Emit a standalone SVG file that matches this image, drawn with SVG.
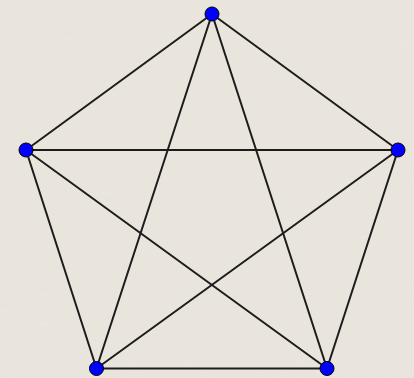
<svg xmlns="http://www.w3.org/2000/svg" width="414" height="378" viewBox="0 0 414 378">
<defs>
<style>
.edge{stroke:#1c1c1c;stroke-width:2;stroke-linecap:round}
.node{fill:#0000ff;stroke:#000;stroke-width:1}
</style>
<filter id="paper" x="0" y="0" width="100%" height="100%">
<feTurbulence type="fractalNoise" baseFrequency="0.08 0.25" numOctaves="3" seed="4" result="n"/>
<feColorMatrix in="n" type="matrix" values="0 0 0 0 0.91  0 0 0 0 0.89  0 0 0 0 0.86  -0.9 0 0 0.55 0" result="c"/>
<feComposite in="c" in2="SourceGraphic" operator="over"/>
</filter>
</defs>
<rect width="414" height="378" fill="#e6e1d9"/>
<rect width="414" height="378" fill="#ece8e1" filter="url(#paper)" opacity="0.6"/>
<g id="connectors">
<line class="edge" x1="212" y1="14" x2="26" y2="150"/>
<line class="edge" x1="212" y1="14" x2="398" y2="150"/>
<line class="edge" x1="212" y1="14" x2="96.5" y2="368.5"/>
<line class="edge" x1="212" y1="14" x2="327" y2="368.5"/>
<line class="edge" x1="26" y1="150" x2="398" y2="150"/>
<line class="edge" x1="26" y1="150" x2="96.5" y2="368.5"/>
<line class="edge" x1="26" y1="150" x2="327" y2="368.5"/>
<line class="edge" x1="398" y1="150" x2="96.5" y2="368.5"/>
<line class="edge" x1="398" y1="150" x2="327" y2="368.5"/>
<line class="edge" x1="96.5" y1="368.5" x2="327" y2="368.5"/>
</g>
<g id="n_top"><circle class="node" cx="212" cy="14" r="7"/></g>
<g id="n_left"><circle class="node" cx="26" cy="150" r="7"/></g>
<g id="n_right"><circle class="node" cx="398" cy="150" r="7"/></g>
<g id="n_bl"><circle class="node" cx="96.5" cy="368.5" r="7"/></g>
<g id="n_br"><circle class="node" cx="327" cy="368.5" r="7"/></g>
</svg>
